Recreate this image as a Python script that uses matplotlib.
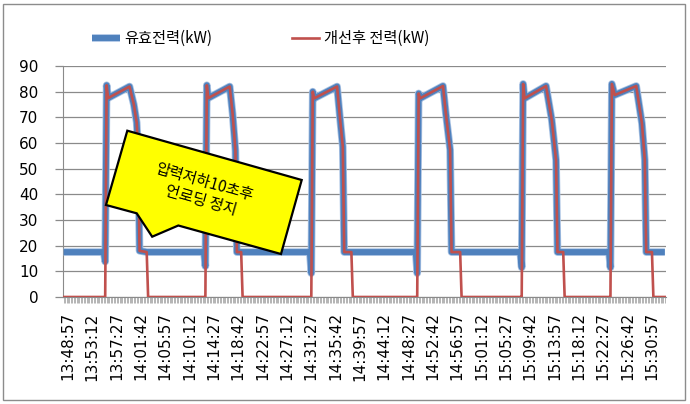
import numpy as np
import matplotlib
matplotlib.use("Agg")
import matplotlib.pyplot as plt
import matplotlib.patheffects as pe
from matplotlib.patches import Polygon, Rectangle

# time offsets in seconds from 13:48:57 (15 s sampling, breakpoints only)
t_sec = [-45,
         375, 390, 405, 420, 645, 690, 720, 735, 750, 825, 840,
         1425, 1440, 1455, 1470, 1695, 1725, 1755, 1770, 1815, 1830,
         2535, 2550, 2565, 2580, 2820, 2850, 2880, 2895, 2970, 2985,
         3645, 3660, 3675, 3690, 3930, 3960, 4005, 4020, 4110, 4125,
         4740, 4755, 4770, 4785, 5010, 5070, 5115, 5130, 5190, 5205,
         5670, 5685, 5700, 5730, 5955, 6015, 6045, 6060, 6120, 6135,
         6255]

# 유효전력(kW)
p_active = [17.5,
            17.5, 13.8, 82.5, 77.5, 82.0, 75.0, 68.0, 57.0, 18.0, 17.5, 17.5,
            17.5, 12.0, 82.5, 77.5, 82.0, 71.5, 57.0, 17.5, 17.5, 17.5,
            17.5, 9.3, 80.0, 77.4, 82.0, 70.0, 58.5, 17.5, 17.5, 17.5,
            17.5, 9.3, 79.3, 77.4, 82.2, 71.5, 57.3, 17.5, 17.5, 17.5,
            17.5, 11.5, 83.0, 77.4, 82.2, 69.0, 53.4, 17.5, 17.5, 17.5,
            17.5, 11.5, 83.0, 78.7, 82.2, 67.7, 53.4, 17.5, 17.5, 17.5,
            17.5]

# 개선후 전력(kW)
p_improved = [0.0,
              0.0, 0.0, 82.5, 77.5, 82.0, 75.0, 68.0, 57.0, 18.0, 17.5, 0.0,
              0.0, 0.0, 82.5, 77.5, 82.0, 71.5, 57.0, 17.5, 17.5, 0.0,
              0.0, 0.0, 80.0, 77.4, 82.0, 70.0, 58.5, 17.5, 17.5, 0.0,
              0.0, 0.0, 79.3, 77.4, 82.2, 71.5, 57.3, 17.5, 17.5, 0.0,
              0.0, 0.0, 83.0, 77.4, 82.2, 69.0, 53.4, 17.5, 17.5, 0.0,
              0.0, 0.0, 83.0, 78.7, 82.2, 67.7, 53.4, 17.5, 17.5, 0.0,
              0.0]

tick_labels = ['13:48:57', '13:53:12', '13:57:27', '14:01:42', '14:05:57',
               '14:10:12', '14:14:27', '14:18:42', '14:22:57', '14:27:12',
               '14:31:27', '14:35:42', '14:39:57', '14:44:12', '14:48:27',
               '14:52:42', '14:56:57', '15:01:12', '15:05:27', '15:09:42',
               '15:13:57', '15:18:12', '15:22:27', '15:26:42', '15:30:57']
label_step = 255  # seconds between labels
sample_step = 15

callout_text = '압력저하10초후\n언로딩 정지'

blue = '#4F81BD'
red = '#C0504D'
grid_c = '#8A8A8A'

fig = plt.figure(figsize=(6.9, 4.04), dpi=100)
ax = fig.add_axes([63.3 / 690, 1 - 297 / 404, 602.2 / 690, 231 / 404])

ax.plot(t_sec, p_active, color=blue, lw=4.3, solid_joinstyle='round',
        solid_capstyle='butt', label='유효전력(kW)', zorder=3,
        path_effects=[pe.Stroke(linewidth=5.5, foreground='#A9C2E3'), pe.Normal()])
ax.plot(t_sec, p_improved, color=red, lw=1.9, solid_joinstyle='round',
        label='개선후 전력(kW)', zorder=4)

ax.set_xlim(-49, 6262)
ax.set_ylim(0, 90)
ax.set_yticks(range(0, 91, 10))
ax.yaxis.grid(True, color=grid_c, lw=0.9)
ax.set_axisbelow(True)

major = [i * label_step for i in range(len(tick_labels))]
ax.set_xticks(major)
ax.set_xticklabels(tick_labels, rotation=90, fontsize=11, family='DejaVu Sans')
ax.set_xticks(np.arange(-45, 6262, sample_step), minor=True)
ax.tick_params(axis='x', which='both', direction='out', length=4, width=0.7,
               color='#B4B4B4', pad=7)
ax.tick_params(axis='y', direction='out', length=6, width=0.9, color=grid_c,
               labelsize=11, pad=12)

for s in ['top', 'right']:
    ax.spines[s].set_visible(False)
ax.spines['left'].set_color(grid_c)
ax.spines['bottom'].set_color(grid_c)

leg = ax.legend(loc='upper left', bbox_to_anchor=(92 / 690, 1 - 30 / 404),
                bbox_transform=fig.transFigure, ncol=2, frameon=False,
                borderpad=0, borderaxespad=0, handlelength=1.8,
                handletextpad=0.3, columnspacing=5.2,
                prop={'family': ['Noto Sans CJK KR', 'DejaVu Sans'], 'size': 11})

# callout box (axes fraction coords)
verts = [(0.1063, 0.7199), (0.3959, 0.5065), (0.3615, 0.1861), (0.1910, 0.3095),
         (0.1476, 0.2610), (0.1219, 0.3623), (0.0709, 0.3983)]
ax.add_patch(Polygon(verts, closed=True, facecolor='#FFFF00', edgecolor='black',
                     lw=1.6, transform=ax.transAxes, zorder=6))
ax.text(0.232, 0.455, callout_text, transform=ax.transAxes, rotation=-16,
        rotation_mode='anchor', ha='center', va='center', fontsize=11,
        linespacing=1.1, family=['Noto Sans CJK KR', 'DejaVu Sans'], zorder=7)

# outer chart border
fig.add_artist(Rectangle((3 / 690, 1 - 400 / 404), 682 / 690, 396 / 404,
                         transform=fig.transFigure, fill=False,
                         edgecolor='#8C8C8C', lw=1.0))

fig.savefig('out.png', dpi=100)
